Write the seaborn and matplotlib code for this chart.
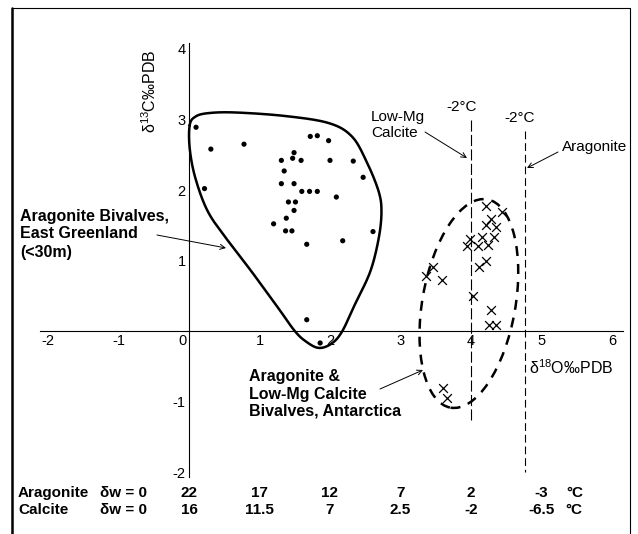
import numpy as np
import pandas as pd
import matplotlib
matplotlib.use("Agg")
import matplotlib.pyplot as plt
import matplotlib.transforms as mtransforms
from matplotlib.patches import Ellipse
from matplotlib.lines import Line2D
import seaborn as sns

# ---------------- data ----------------
# East Greenland aragonite bivalves (dots)
dot_d18O = [0.10, 0.31, 0.78, 0.22, 1.72, 1.82, 1.98, 1.49, 1.47, 1.31, 1.59, 2.00,
            2.33, 1.35, 2.47, 1.31, 1.49, 1.60, 1.71, 1.82, 2.09, 1.41, 1.51, 1.49,
            1.38, 1.20, 1.37, 1.46, 2.61, 2.18, 1.67, 1.67, 1.86]
dot_d13C = [2.89, 2.58, 2.65, 2.02, 2.76, 2.77, 2.70, 2.53, 2.45, 2.42, 2.42, 2.42,
            2.41, 2.27, 2.18, 2.09, 2.09, 1.98, 1.98, 1.98, 1.90, 1.83, 1.83, 1.71,
            1.60, 1.52, 1.42, 1.42, 1.41, 1.28, 1.23, 0.16, -0.17]

# Antarctic aragonite & low-Mg calcite bivalves (crosses)
cross_d18O = [4.21, 4.44, 4.29, 4.21, 4.36, 4.15, 4.32, 3.99, 3.95, 4.10, 4.24,
              4.21, 4.12, 3.46, 3.36, 3.59, 4.03, 4.29, 4.25, 4.36, 3.60, 3.66]
cross_d13C = [1.77, 1.69, 1.59, 1.50, 1.48, 1.34, 1.33, 1.31, 1.21, 1.20, 1.22,
              1.00, 0.91, 0.91, 0.78, 0.73, 0.49, 0.30, 0.08, 0.08, -0.81, -0.95]

# outline of the East Greenland field (hand-drawn envelope)
greenland_env_x = [0.01, 0.09, 0.27, 0.65, 1.36, 1.98, 2.31, 2.52, 2.69, 2.73, 2.69, 2.57,
                   2.35, 2.17, 2.02, 1.84, 1.66, 1.50, 1.27, 0.89, 0.56, 0.27, 0.09, 0.01]
greenland_env_y = [2.92, 3.04, 3.09, 3.10, 3.05, 2.95, 2.76, 2.40, 1.98, 1.69, 1.31, 0.84,
                   0.37, -0.01, -0.18, -0.24, -0.15, 0.00, 0.32, 0.84, 1.27, 1.69, 2.17, 2.59]

# Antarctic field (dashed ellipse): centre, full width, full height, tilt
antarctic_center = (3.97, 0.39)
antarctic_width = 1.32
antarctic_height = 3.0
antarctic_angle = -10

# -2 degC equilibrium lines
lowmg_line_x = 4.0
lowmg_line_y = (2.99, -1.26)
aragonite_line_x = 4.77
aragonite_line_y = (2.83, -2.0)

x_ticks = [-2, -1, 0, 1, 2, 3, 4, 5, 6]
y_ticks = [-2, -1, 1, 2, 3, 4]

temp_cols = [0, 1, 2, 3, 4, 5]
aragonite_temps = ["22", "17", "12", "7", "2", "-3"]
calcite_temps = ["16", "11.5", "7", "2.5", "-2", "-6.5"]

# ---------------- style ----------------
sns.set_style("white")
plt.rcParams['font.family'] = ['Liberation Sans', 'DejaVu Sans']
plt.rcParams['mathtext.fontset'] = 'custom'
plt.rcParams['mathtext.rm'] = 'Liberation Sans'
plt.rcParams['mathtext.it'] = 'Liberation Sans:italic'
plt.rcParams['mathtext.bf'] = 'Liberation Sans:bold'

W, H = 638, 534
fig = plt.figure(figsize=(W / 100, H / 100), dpi=100)
PX = 70.5          # pixels per unit
X0, Y0 = 189, 331  # pixel position of origin
L, R, T, B = 12, 630, 8, 520
ax = fig.add_axes([L / W, 1 - B / H, (R - L) / W, (B - T) / H])
ax.set_xlim((L - X0) / PX, (R - X0) / PX)
ax.set_ylim((Y0 - B) / PX, (Y0 - T) / PX)
ax.patch.set_alpha(0)

# axes through origin
for s in ['top', 'right']:
    ax.spines[s].set_visible(False)
ax.spines['left'].set_position(('data', 0))
ax.spines['bottom'].set_position(('data', 0))
ax.spines['left'].set_bounds(-2.07, 4.08)
ax.spines['bottom'].set_bounds(-2.12, 6.15)
for s in ['left', 'bottom']:
    ax.spines[s].set_linewidth(0.8)
    ax.spines[s].set_color('black')

ax.set_xticks(x_ticks)
ax.set_yticks(y_ticks)
ax.set_xticklabels([str(v) for v in x_ticks])
ax.set_yticklabels([str(v) for v in y_ticks])
ax.tick_params(axis='both', direction='in', length=4, width=0.8, colors='black',
               labelsize=10.5, pad=2.5)
# "0" label sits left of the vertical axis
for lab, v in zip(ax.get_xticklabels(), x_ticks):
    if v == 0:
        lab.set_horizontalalignment('right')
        lab.set_transform(lab.get_transform() +
                          mtransforms.ScaledTranslation(-2 / 72, 0, fig.dpi_scale_trans))

# ---------------- envelopes ----------------
def closed_smooth(xs, ys, n=24):
    P = np.column_stack([xs, ys])
    N = len(P)
    t = np.linspace(0, 1, n, endpoint=False)[:, None]
    out = []
    for i in range(N):
        p0, p1, p2, p3 = P[(i - 1) % N], P[i], P[(i + 1) % N], P[(i + 2) % N]
        seg = 0.5 * (2 * p1 + (-p0 + p2) * t + (2 * p0 - 5 * p1 + 4 * p2 - p3) * t ** 2
                     + (-p0 + 3 * p1 - 3 * p2 + p3) * t ** 3)
        out.append(seg)
    out = np.vstack(out + [P[:1]])
    return out[:, 0], out[:, 1]

ex, ey = closed_smooth(greenland_env_x, greenland_env_y)
ax.plot(ex, ey, color='black', lw=1.8, solid_joinstyle='round')

ell = Ellipse(antarctic_center, antarctic_width, antarctic_height, angle=antarctic_angle,
              fill=False, edgecolor='black', lw=1.8, linestyle=(0, (4, 3.2)))
ax.add_patch(ell)

# -2 degC lines
ax.plot([lowmg_line_x, lowmg_line_x], list(lowmg_line_y), color='black', lw=0.8,
        linestyle=(0, (10, 3)))
ax.plot([aragonite_line_x, aragonite_line_x], list(aragonite_line_y), color='black', lw=0.8,
        linestyle=(0, (7, 3.5)))

# ---------------- points ----------------
dots = pd.DataFrame({'d18O': dot_d18O, 'd13C': dot_d13C})
crosses = pd.DataFrame({'d18O': cross_d18O, 'd13C': cross_d13C})
sns.scatterplot(data=dots, x='d18O', y='d13C', ax=ax, color='black', marker='o', s=14,
                edgecolor='none', linewidth=0, legend=False, zorder=5)
sns.scatterplot(data=crosses, x='d18O', y='d13C', ax=ax, color='black', marker='x', s=40,
                linewidth=0.9, legend=False, zorder=5)
ax.set_xlabel('')
ax.set_ylabel('')

# ---------------- text ----------------
def d(px, py):
    return ((px - X0) / PX, (Y0 - py) / PX)

bold = dict(fontweight='bold', fontsize=11.5, color='black')
reg = dict(fontsize=11, color='black')
arrow = dict(arrowstyle='->', lw=0.7, color='black', shrinkA=0, shrinkB=0,
             mutation_scale=9)

ax.text(*d(150, 91), 'δ$^{13}$C‰PDB', rotation=90, ha='center', va='center',
        fontsize=11.5, color='black')
ax.text(*d(529, 368), 'δ$^{18}$O‰PDB', ha='left', va='center', fontsize=11.5, color='black')

ax.text(*d(20, 234), 'Aragonite Bivalves,\nEast Greenland\n(<30m)', ha='left',
        va='center', linespacing=1.25, **bold)
ax.annotate('', xy=d(226, 248), xytext=d(157, 235), arrowprops=arrow)

ax.text(*d(249, 394), 'Aragonite &\nLow-Mg Calcite\nBivalves, Antarctica', ha='left',
        va='center', linespacing=1.18, **bold)
ax.annotate('', xy=d(423, 370), xytext=d(380, 389), arrowprops=arrow)

ax.text(*d(371, 125), 'Low-Mg\nCalcite', ha='left', va='center', linespacing=1.2, **reg)
ax.annotate('', xy=d(467, 158), xytext=d(425, 132), arrowprops=arrow)

ax.text(*d(462, 107), '-2°C', ha='center', va='center', **reg)
ax.text(*d(520, 118), '-2°C', ha='center', va='center', **reg)

ax.text(*d(562, 147), 'Aragonite', ha='left', va='center', **reg)
ax.annotate('', xy=d(527, 168), xytext=d(558, 152), arrowprops=arrow)

# temperature table
row1_y = (Y0 - 493) / PX
row2_y = (Y0 - 510) / PX
tb = dict(fontweight='bold', fontsize=11, color='black', va='center')
ax.text((18 - X0) / PX, row1_y, 'Aragonite', ha='left', **tb)
ax.text((100 - X0) / PX, row1_y, 'δw = 0', ha='left', **tb)
ax.text((18 - X0) / PX, row2_y, 'Calcite', ha='left', **tb)
ax.text((100 - X0) / PX, row2_y, 'δw = 0', ha='left', **tb)
for xc, a_t, c_t in zip(temp_cols, aragonite_temps, calcite_temps):
    ax.text(xc, row1_y, a_t, ha='center', **tb)
    ax.text(xc, row2_y, c_t, ha='center', **tb)
ax.text((566 - X0) / PX, row1_y, '°C', ha='left', **tb)
ax.text((565 - X0) / PX, row2_y, '°C', ha='left', **tb)

# figure frame
fig.add_artist(Line2D([12 / W, 12 / W], [0, 1 - 8 / H], transform=fig.transFigure,
                      color='black', lw=1.8))
fig.add_artist(Line2D([12 / W, 630 / W], [1 - 8 / H, 1 - 8 / H], transform=fig.transFigure,
                      color='black', lw=0.8))
fig.add_artist(Line2D([630 / W, 630 / W], [0, 1 - 8 / H], transform=fig.transFigure,
                      color='black', lw=0.8))

fig.savefig('out.png', dpi=100, facecolor='white')
